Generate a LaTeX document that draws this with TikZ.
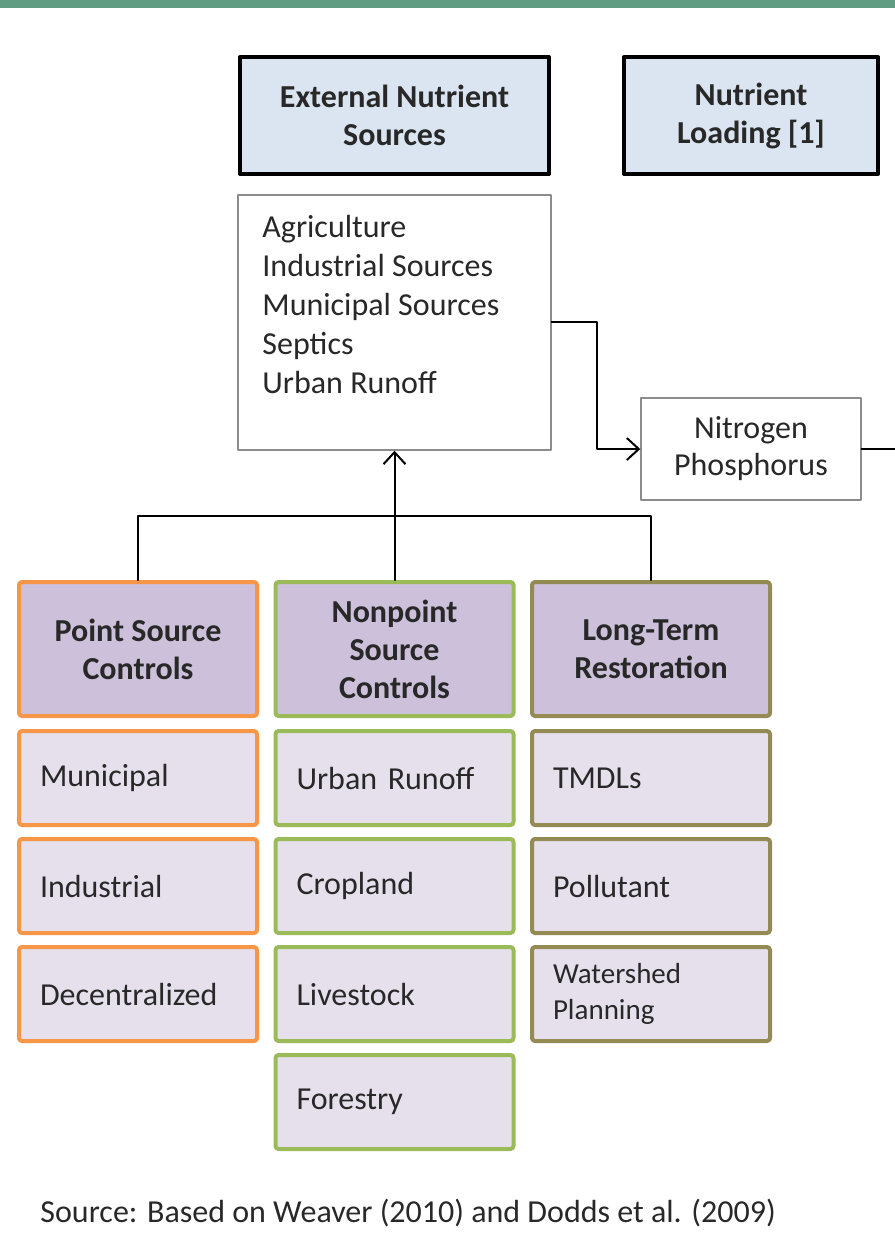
\documentclass[tikz,border=0pt]{standalone}
\usepackage{fontspec}
\setmainfont{Carlito}
\usetikzlibrary{positioning,arrows.meta}

\definecolor{barGreen}{RGB}{96,156,130}
\definecolor{headBlue}{RGB}{219,229,241}
\definecolor{catFill}{RGB}{204,192,218}
\definecolor{subFill}{RGB}{229,224,236}
\definecolor{ptOrange}{RGB}{247,150,70}
\definecolor{npGreen}{RGB}{155,187,89}
\definecolor{ltOlive}{RGB}{148,138,84}
\definecolor{textGray}{RGB}{40,40,40}

\tikzset{
  headbox/.style={draw=black, line width=2pt, fill=headBlue, font=\fontsize{16}{19}\selectfont\bfseries,
    align=center, minimum height=58.5pt, text=textGray},
  listbox/.style={draw=black!45, line width=0.7pt, fill=white},
  catbox/.style={draw=#1, line width=2pt, rounded corners=1.5pt, fill=catFill,
    minimum width=119pt, minimum height=67pt, align=center,
    font=\fontsize{16}{19}\selectfont\bfseries, text=textGray},
  subbox/.style={draw=#1, line width=2pt, rounded corners=1.5pt, fill=subFill,
    minimum width=119pt, minimum height=47pt, text width=98pt, inner xsep=10.5pt,
    align=left, font=\fontsize{16}{19}\selectfont, text=textGray},
  link/.style={line width=1pt, black},
  tip/.style={-{Straight Barb[length=6pt,width=11pt,line width=1pt]}},
}

\begin{document}
\begin{tikzpicture}[x=0.5pt,y=-0.5pt,line cap=round,line join=round]
  \useasboundingbox (0,0) rectangle (895,1255);
  \fill[barGreen] (0,0) rectangle (895,8);

  % top row
  \node[headbox, minimum width=154.5pt] (ext) at (394.5,115.5) {External Nutrient\\Sources};
  \node[headbox, minimum width=127pt] (load) at (751,115.5) {Nutrient\\Loading [1]};

  % sources list
  \node[listbox, minimum width=156.5pt, minimum height=127.5pt] (src) at (394.5,322.5) {};
  \node[anchor=north west, align=left, inner sep=0pt, text=textGray,
    font=\fontsize{16}{19.5}\selectfont] (srctxt) at (262,215)
    {Agriculture\\Industrial Sources\\Municipal Sources\\Septics\\Urban Runoff};

  \node[listbox, minimum width=110pt, minimum height=51pt, align=center, text=textGray,
    font=\fontsize{16}{18.5}\selectfont] (nut) at (751,449) {Nitrogen\\Phosphorus};
  \coordinate (edge) at (895,449);

  \draw[link,tip] (src.east |- 0,322) -- (597,322) |- (nut.west);
  \draw[link] (nut.east) -- (edge);

  % control columns
  \node[catbox=ptOrange] (pt) at (138,649) {Point Source\\Controls};
  \node[catbox=npGreen] (np) at (394.5,649) {Nonpoint\\Source\\Controls};
  \node[catbox=ltOlive] (lt) at (651,649) {Long-Term\\Restoration};

  \coordinate (bus) at (394.5,516);
  \draw[link] (pt.north) |- (bus) -| (lt.north);
  \draw[link,tip] (np.north) -- (src.south);

  \node[subbox=ptOrange] (pt1) at (138,778) {Municipal};
  \node[subbox=ptOrange] (pt2) at (138,886) {Industrial};
  \node[subbox=ptOrange] (pt3) at (138,994) {Decentralized};

  \node[subbox=npGreen] (np1) at (394.5,778) {Urban Runoff};
  \node[subbox=npGreen] (np2) at (394.5,886) {Cropland};
  \node[subbox=npGreen] (np3) at (394.5,994) {Livestock};
  \node[subbox=npGreen] (np4) at (394.5,1102) {Forestry};

  \node[subbox=ltOlive] (lt1) at (651,778) {TMDLs};
  \node[subbox=ltOlive] (lt2) at (651,886) {Pollutant};
  \node[subbox=ltOlive, font=\fontsize{14.5}{18}\selectfont] (lt3) at (651,994) {Watershed\\Planning};

  \node[anchor=west, inner sep=0pt, text=textGray, font=\fontsize{16}{19}\selectfont] (note) at (40,1213)
    {Source: Based on Weaver (2010) and Dodds et al. (2009)};
\end{tikzpicture}
\end{document}
